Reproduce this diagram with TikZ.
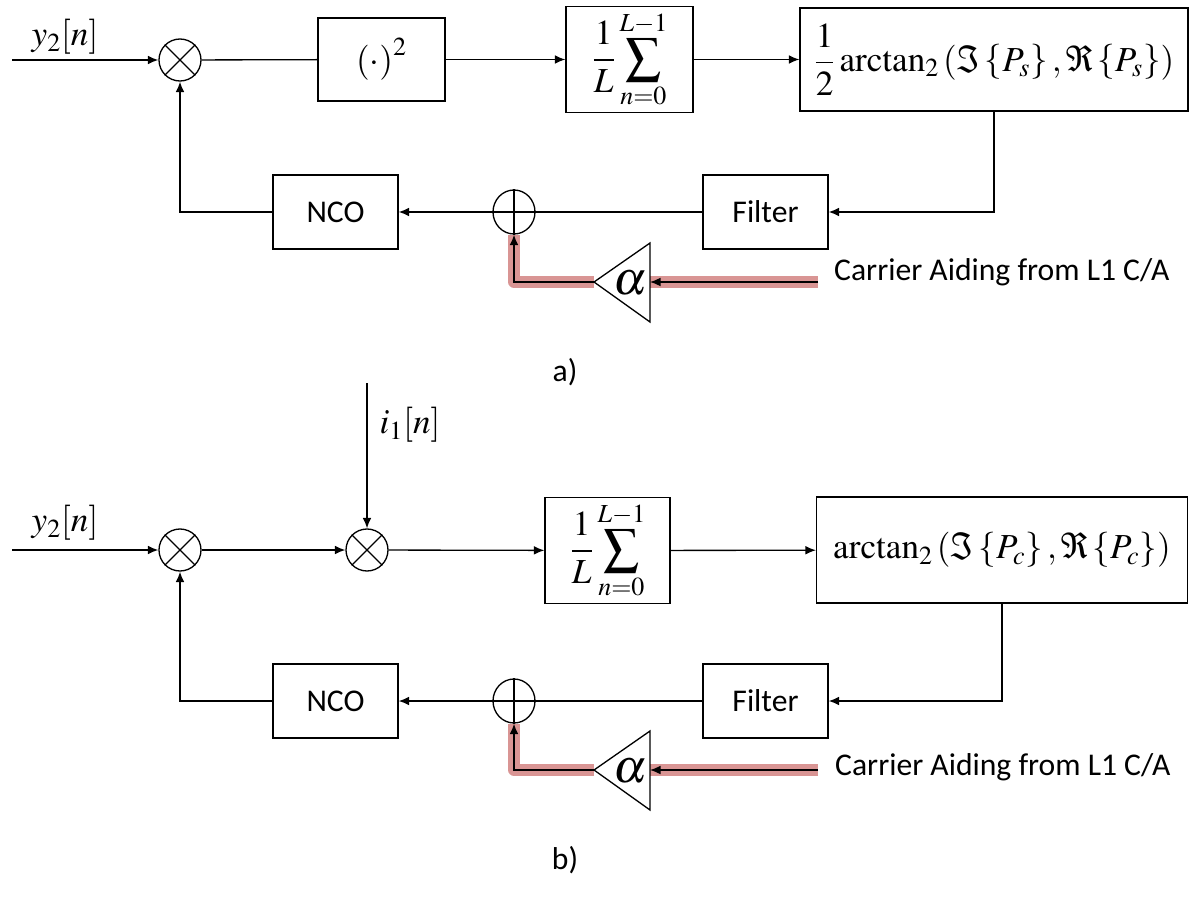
\documentclass[tikz,border=0pt]{standalone}
\usepackage{mathptmx}
\usepackage[no-math]{fontspec}
\setmainfont{Carlito}
\usetikzlibrary{arrows.meta,positioning,shapes.geometric,calc}
\definecolor{aidred}{RGB}{217,149,148}

\begin{document}
\begin{tikzpicture}[x=0.02cm, y=-0.02cm,
  blk/.style={draw, line width=0.75pt, minimum width=2.5cm, minimum height=1.48cm, inner sep=2pt, font=\fontsize{18}{22}\selectfont},
  mbox/.style={draw, line width=0.75pt, inner sep=2pt, font=\fontsize{20}{24}\selectfont},
  mix/.style={draw, line width=0.75pt, circle, minimum size=0.84cm, inner sep=0pt},
  addr/.style={draw, line width=0.75pt, ellipse, minimum width=0.84cm, minimum height=0.88cm, inner sep=0pt},
  wire/.style={line width=0.75pt},
  flow/.style={-{Latex[length=6pt,width=5pt]}, line width=0.75pt},
  aid/.style={line width=6.5pt, draw=aidred, line join=round},
  lbl/.style={font=\fontsize{20}{24}\selectfont},
  gain/.style={font=\fontsize{27}{30}\selectfont},
  note/.style={font=\fontsize{18}{22}\selectfont}]
\useasboundingbox (0,0) rectangle (1195,898);

% a) squaring loop
\coordinate (ina) at (12,60);
\node[lbl] (ya) at (65,37) {$y_2[n]$};
\node[mix] (ma) at (180,60) {};
\draw[wire] (ma.north west) -- (ma.south east) (ma.north east) -- (ma.south west);
\node[mbox, minimum width=2.54cm, minimum height=1.66cm] (sqa) at (381.5,59.5) {$\left(\cdot\right)^{2}$};
\node[mbox, minimum width=2.54cm, minimum height=2.06cm] (suma) at (629.5,59.5) {$\displaystyle\frac{1}{L}\sum_{n=0}^{L-1}$};
\node[mbox, minimum width=7.76cm, minimum height=2.06cm] (ata) at (994,59.5) {$\displaystyle\frac{1}{2}\arctan_{2}\left(\Im\left\{P_{s}\right\},\Re\left\{P_{s}\right\}\right)$};
\node[blk] (fla) at (765.5,212) {Filter};
\node[addr] (ada) at (514,212) {};
\draw[wire] (ada.north) -- (ada.south) (ada.west) -- (ada.east);
\node[blk] (ncoa) at (335.5,212) {NCO};
\coordinate (gta) at (594,282);
\coordinate (gua) at (650,243);
\coordinate (gla) at (650,322);
\coordinate (gia) at (650,282);
\coordinate (caa) at (818,282);
\node[gain] (ala) at (630,283) {$\alpha$};
\node[note, anchor=west] (txa) at (828,272) {Carrier Aiding from L1 C/A};
\node[note] (capa) at (565,372) {a)};

\draw[aid] (caa) -- (gia);
\draw[aid] (gta) -| (ada.south);
\draw[wire] (gta) -- (gua) -- (gla) -- cycle;
\draw[flow] (caa) -- (gia);
\draw[flow] (gta) -| (ada.south);
\draw[flow] (ina) -- (ma);
\draw[wire] (ma) -- (sqa);
\draw[flow] (sqa) -- (suma);
\draw[flow] (suma) -- (ata);
\draw[flow] (ata.south) |- (fla.east);
\draw[wire] (fla) -- (ada);
\draw[flow] (ada) -- (ncoa);
\draw[flow] (ncoa.west) -| (ma.south);

% b) pilot-aided loop
\coordinate (inb) at (12,550);
\coordinate (ib) at (367,383);
\node[lbl] (yb) at (65,523) {$y_2[n]$};
\node[lbl] (ibl) at (410,425) {$i_1[n]$};
\node[mix] (mb) at (180,550) {};
\draw[wire] (mb.north west) -- (mb.south east) (mb.north east) -- (mb.south west);
\node[mix] (mc) at (367,550) {};
\draw[wire] (mc.north west) -- (mc.south east) (mc.north east) -- (mc.south west);
\node[mbox, minimum width=2.5cm, minimum height=2.1cm] (sumb) at (607.5,550.5) {$\displaystyle\frac{1}{L}\sum_{n=0}^{L-1}$};
\node[mbox, minimum width=7.42cm, minimum height=2.12cm] (atb) at (1002,550) {$\arctan_{2}\left(\Im\left\{P_{c}\right\},\Re\left\{P_{c}\right\}\right)$};
\node[blk] (flb) at (765.5,701) {Filter};
\node[addr] (adb) at (514,701) {};
\draw[wire] (adb.north) -- (adb.south) (adb.west) -- (adb.east);
\node[blk] (ncob) at (335.5,701) {NCO};
\coordinate (gtb) at (594,770);
\coordinate (gub) at (650,731);
\coordinate (glb) at (650,810);
\coordinate (gib) at (650,770);
\coordinate (cab) at (818,770);
\node[gain] (alb) at (630,771) {$\alpha$};
\node[note, anchor=west] (txb) at (829,767) {Carrier Aiding from L1 C/A};
\node[note] (capb) at (565,860) {b)};

\draw[aid] (cab) -- (gib);
\draw[aid] (gtb) -| (adb.south);
\draw[wire] (gtb) -- (gub) -- (glb) -- cycle;
\draw[flow] (cab) -- (gib);
\draw[flow] (gtb) -| (adb.south);
\draw[flow] (inb) -- (mb);
\draw[flow] (ib) -- (mc);
\draw[flow] (mb) -- (mc);
\draw[flow] (mc) -- (sumb);
\draw[flow] (sumb) -- (atb);
\draw[flow] (atb.south) |- (flb.east);
\draw[wire] (flb) -- (adb);
\draw[flow] (adb) -- (ncob);
\draw[flow] (ncob.west) -| (mb.south);
\end{tikzpicture}
\end{document}
